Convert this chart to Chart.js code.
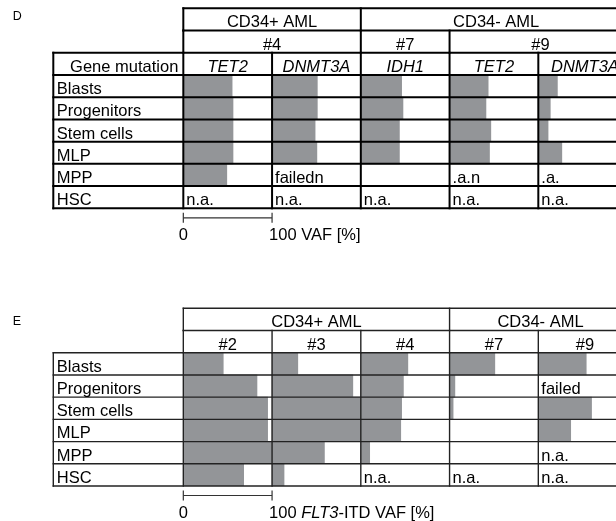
<!DOCTYPE html>
<html>
<head>
<meta charset="utf-8">
<script src="https://cdn.jsdelivr.net/npm/chart.js@4.4.1/dist/chart.umd.min.js"></script>
<style>
  html, body { margin: 0; padding: 0; background: #fff; overflow: hidden; }
  #wrap { position: relative; width: 616px; height: 521px; overflow: hidden; }
  canvas { position: absolute; left: 0; }
</style>
</head>
<body>
<div id="wrap">
  <canvas id="chartD" width="660" height="260" style="top:0"></canvas>
  <canvas id="chartE" width="660" height="261" style="top:260px"></canvas>
</div>
<script>
const rowLabels = ['Blasts', 'Progenitors', 'Stem cells', 'MLP', 'MPP', 'HSC'];

// panel D - gene mutations
const dGroups = ['CD34+ AML', 'CD34- AML'];
const dGroupCols = [2, 3];
const dPatients = ['#4', '#7', '#9'];
const dPatientCols = [2, 1, 2];
const dGenes = ['TET2', 'DNMT3A', 'IDH1', 'TET2', 'DNMT3A'];
// VAF [%] per column, rows in rowLabels order
const dVaf = [
    [55, 56, 56, 56, 49, null],
    [51, 51, 48.5, 50.5, null, null],
    [46, 47.5, 43.5, 43.5, null, null],
    [43.5, 41, 46.5, 45, null, null],
    [21.5, 13.5, 11, 26.5, null, null]
];
const dNotes = [
    [null, null, null, null, null, 'n.a.'],
    [null, null, null, null, 'failedn', 'n.a.'],
    [null, null, null, null, null, 'n.a.'],
    [null, null, null, null, '.a.n', 'n.a.'],
    [null, null, null, null, '.a.', 'n.a.']
];

// panel E - FLT3-ITD
const eGroups = ['CD34+ AML', 'CD34- AML'];
const eGroupCols = [3, 2];
const ePatients = ['#2', '#3', '#4', '#7', '#9'];
const ePatientCols = [1, 1, 1, 1, 1];
const eVaf = [
    [45, 83, 95, 95, 100, 68],
    [29, 91, 100, 100, 59, 13.5],
    [53, 48, 46, 45, 10, null],
    [51, 6, 4, 0, 0, null],
    [54, null, 60, 36.5, null, null]
];
const eNotes = [
    [null, null, null, null, null, null],
    [null, null, null, null, null, null],
    [null, null, null, null, null, 'n.a.'],
    [null, null, null, null, null, 'n.a.'],
    [null, 'failed', null, null, 'n.a.', 'n.a.']
];

const FONT = '"Liberation Sans", Arial, Helvetica, sans-serif';
const FS = 16.5;
const BAR_COLOR = '#939598';
const X_MIN = -146.5, X_MAX = 505;   // one table column = 100 % VAF

function makeTablePlugin(panel, labels, hdr) {
    return {
        id: 'table_' + panel.letter,
        afterDatasetsDraw(chart) {
            const ctx = chart.ctx, x = chart.scales.x, y = chart.scales.y;
            const n = labels.length, ncol = panel.vaf.length;
            const band = (y.bottom - y.top) / n;
            const rowTop = i => y.getPixelForValue(i) - band / 2;
            const rowBase = i => y.getPixelForValue(i) + 8;
            const edge = k => x.getPixelForValue(k < ncol ? k * 100 : X_MAX);
            const L = chart.chartArea.left, R = edge(ncol), B = rowTop(n);

            ctx.save();
            ctx.strokeStyle = panel.lineColor;
            ctx.lineWidth = panel.lineWidth;
            ctx.lineCap = 'square';
            const line = (x1, y1, x2, y2) => {
                ctx.beginPath(); ctx.moveTo(x1, y1); ctx.lineTo(x2, y2); ctx.stroke();
            };
            for (let i = 0; i <= n; i++)
                line(i >= 2 ? L : edge(0), rowTop(i), R, rowTop(i));
            let c = 0;
            line(edge(0), rowTop(0), edge(0), rowTop(1));
            panel.groupCols.forEach(s => { c += s; line(edge(c), rowTop(0), edge(c), rowTop(1)); });
            c = 0;
            line(edge(0), rowTop(1), edge(0), rowTop(2));
            panel.patientCols.forEach(s => { c += s; line(edge(c), rowTop(1), edge(c), rowTop(2)); });
            line(L, rowTop(2), L, B);
            for (let k = 0; k <= ncol; k++) line(edge(k), rowTop(2), edge(k), B);

            // texts
            ctx.fillStyle = '#000';
            ctx.textBaseline = 'alphabetic';
            ctx.font = FS + 'px ' + FONT;
            ctx.textAlign = 'center';
            c = 0;
            panel.groups.forEach((g, i) => {
                const a = c; c += panel.groupCols[i];
                ctx.fillText(g, (edge(a) + edge(c)) / 2, rowBase(0));
            });
            c = 0;
            panel.patients.forEach((p, i) => {
                const a = c; c += panel.patientCols[i];
                ctx.fillText(p, (edge(a) + edge(c)) / 2, rowBase(1));
            });
            if (panel.genes) {
                ctx.textAlign = 'right';
                ctx.fillText('Gene mutation', edge(0) - 5, rowBase(2));
                ctx.font = 'italic ' + FS + 'px ' + FONT;
                ctx.textAlign = 'center';
                panel.genes.forEach((g, k) => ctx.fillText(g, (edge(k) + edge(k + 1)) / 2, rowBase(2)));
                ctx.font = FS + 'px ' + FONT;
            }
            ctx.textAlign = 'left';
            rowLabels.forEach((r, i) => ctx.fillText(r, L + 3.5, rowBase(hdr + i)));
            panel.notes.forEach((col, k) => col.forEach((t, i) => {
                if (t) ctx.fillText(t, edge(k) + 3, rowBase(hdr + i));
            }));

            // VAF scale bar
            const x0 = x.getPixelForValue(0), x1 = x.getPixelForValue(100);
            const ly = B + 9.5;
            ctx.strokeStyle = '#333';
            ctx.lineWidth = 1.2;
            ctx.lineCap = 'butt';
            line(x0, ly, x1, ly);
            line(x0, ly - 5, x0, ly + 5);
            line(x1, ly - 5, x1, ly + 5);
            const by = B + 31.8;
            ctx.textAlign = 'center';
            ctx.fillText('0', x0, by);
            ctx.textAlign = 'left';
            let tx = x1 - 3;
            panel.scaleText.forEach(part => {
                ctx.font = (part.italic ? 'italic ' : '') + FS + 'px ' + FONT;
                ctx.fillText(part.text, tx, by);
                tx += ctx.measureText(part.text).width;
            });

            // panel letter
            ctx.font = '12.5px ' + FONT;
            ctx.fillText(panel.letter, 12.7, panel.letterY);
            ctx.restore();
        }
    };
}

function buildChart(id, panel) {
    const hdr = panel.genes ? 3 : 2;
    const labels = ['group', 'patient'].concat(panel.genes ? ['Gene mutation'] : [], rowLabels);
    const datasets = panel.vaf.map((col, k) => ({
        label: panel.genes ? panel.genes[k] : panel.patients[k],
        data: labels.map((_, i) => {
            const v = i >= hdr ? col[i - hdr] : null;
            return v == null ? null : [k * 100, k * 100 + v];
        }),
        backgroundColor: BAR_COLOR,
        borderWidth: 0,
        grouped: false,
        categoryPercentage: 1,
        barPercentage: 1
    }));
    return new Chart(document.getElementById(id), {
        type: 'bar',
        data: { labels, datasets },
        options: {
            indexAxis: 'y',
            responsive: false,
            animation: false,
            layout: { padding: panel.padding },
            scales: {
                x: { type: 'linear', min: X_MIN, max: X_MAX, display: false },
                y: { display: false }
            },
            plugins: { legend: { display: false }, tooltip: { enabled: false } }
        },
        plugins: [makeTablePlugin(panel, labels, hdr)]
    });
}

buildChart('chartD', {
    letter: 'D', letterY: 20,
    groups: dGroups, groupCols: dGroupCols,
    patients: dPatients, patientCols: dPatientCols,
    genes: dGenes, vaf: dVaf, notes: dNotes,
    lineColor: '#000', lineWidth: 2,
    scaleText: [{ text: '100 VAF [%]' }],
    padding: { left: 53.3, right: 28.5, top: 8.3, bottom: 51.7 }
});

buildChart('chartE', {
    letter: 'E', letterY: 65,
    groups: eGroups, groupCols: eGroupCols,
    patients: ePatients, patientCols: ePatientCols,
    genes: null, vaf: eVaf, notes: eNotes,
    lineColor: '#222', lineWidth: 1.4,
    scaleText: [{ text: '100 ' }, { text: 'FLT3', italic: true }, { text: '-ITD VAF [%]' }],
    padding: { left: 53.3, right: 28.5, top: 48.3, bottom: 35 }
});
</script>
</body>
</html>
